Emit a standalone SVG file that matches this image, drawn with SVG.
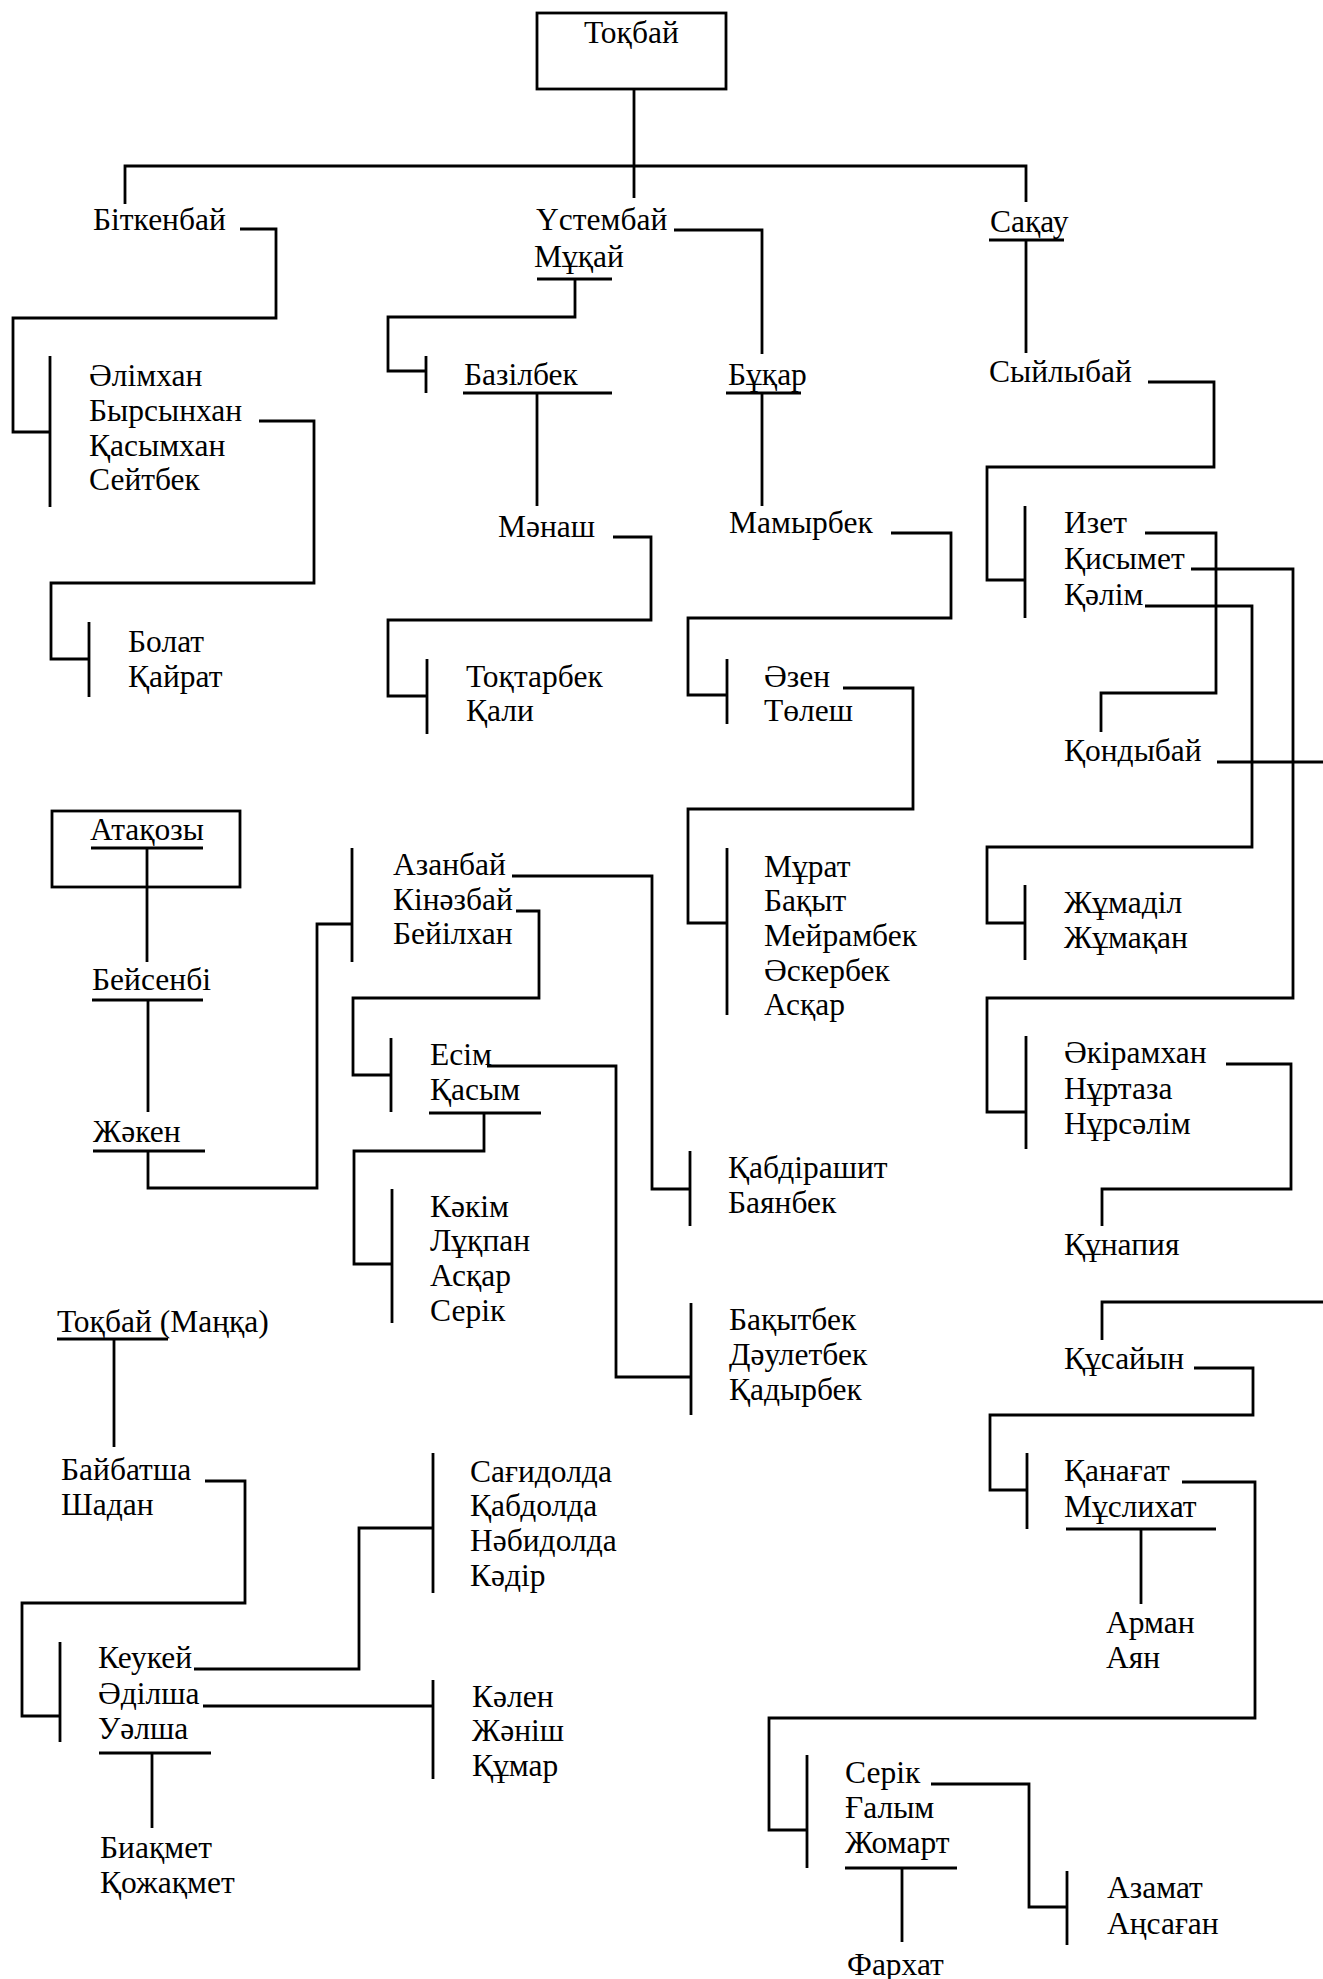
<svg xmlns="http://www.w3.org/2000/svg" width="1323" height="1979" viewBox="0 0 1323 1979">
<style>
text{font-family:"Liberation Serif","Times New Roman",serif;font-size:31.5px;fill:#000}
.l{stroke:#000;stroke-width:2.8;fill:none}
</style>
<rect width="1323" height="1979" fill="#fff"/>
<g id="connectors" class="l">
<path d="M634,89 V198 M125,204 V166 H1026 V202"/>
<path d="M240,229 H276 V318 H13 V432 H50 M50,356 V507"/>
<path d="M259,421 H314 V583 H51 V659 H89 M89,622 V697"/>
<path d="M575,279 V317 H388 V371 H426 M426,356 V393"/>
<path d="M674,230 H762 V354"/>
<path d="M537,393 V506"/>
<path d="M762,393 V506"/>
<path d="M613,537 H651 V620 H388 V696 H427 M427,659 V734"/>
<path d="M891,533 H951 V618 H688 V695 H727 M727,659 V724"/>
<path d="M843,688 H913 V809 H688 V923 H727 M727,848 V1015"/>
<path d="M1026,240 V353"/>
<path d="M1148,382 H1214 V467 H987 V580 H1025 M1025,506 V618"/>
<path d="M1145,533 H1216 V693 H1101 V732"/>
<path d="M1191,569 H1293 V998 H987 V1112 H1026 M1026,1036 V1149"/>
<path d="M1145,606 H1252 V847 H987 V923 H1025 M1025,885 V960"/>
<path d="M1217,762 H1323"/>
<path d="M1323,1302 H1102 V1340"/>
<path d="M1226,1064 H1291 V1189 H1102 V1226"/>
<path d="M1194,1368 H1253 V1415 H990 V1490 H1027 M1027,1453 V1529"/>
<path d="M1182,1482 H1255 V1718 H769 V1830 H807 M807,1755 V1868"/>
<path d="M1141,1529 V1604"/>
<path d="M931,1784 H1029 V1907 H1067 M1067,1871 V1945"/>
<path d="M902,1868 V1942"/>
<path d="M147,848 V962"/>
<path d="M148,1000 V1112"/>
<path d="M148,1151 V1188 H317 V924 H352 M352,848 V962"/>
<path d="M512,876 H652 V1189 H690 M690,1151 V1226"/>
<path d="M516,911 H539 V998 H353 V1075 H391 M391,1038 V1112"/>
<path d="M487,1066 H616 V1377 H691 M691,1303 V1415"/>
<path d="M484,1113 V1151 H354 V1264 H392 M392,1189 V1323"/>
<path d="M114,1339 V1447"/>
<path d="M205,1481 H245 V1603 H22 V1716 H60 M60,1642 V1742"/>
<path d="M194,1669 H359 V1528 H433 M433,1453 V1593"/>
<path d="M203,1706 H433 M433,1680 V1779"/>
<path d="M152,1753 V1828"/>
</g>
<g id="n-tokbai"><rect class="l" x="537" y="13" width="189" height="76"/><text x="584" y="43">Тоқбай</text></g>
<g id="n-bitkenbai"><text x="93" y="230">Біткенбай</text></g>
<g id="n-ustembai"><text x="536" y="230">Үстембай</text><text x="534" y="267">Мұқай</text><path class="l" d="M537,279 H612"/></g>
<g id="n-sakau"><text x="990" y="232">Сақау</text><path class="l" d="M989,240 H1064"/></g>
<g id="n-alimkhan"><text x="89" y="386">Әлімхан</text><text x="89" y="421">Бырсынхан</text><text x="89" y="456">Қасымхан</text><text x="89" y="490">Сейтбек</text></g>
<g id="n-bazilbek"><text x="464" y="385">Базілбек</text><path class="l" d="M463,393 H612"/></g>
<g id="n-bukar"><text x="728" y="385">Бұқар</text><path class="l" d="M726,393 H801"/></g>
<g id="n-syilybai"><text x="989" y="382">Сыйлыбай</text></g>
<g id="n-manash"><text x="498" y="537">Мәнаш</text></g>
<g id="n-mamyrbek"><text x="729" y="533">Мамырбек</text></g>
<g id="n-izet"><text x="1064" y="533">Изет</text><text x="1064" y="569">Қисымет</text><text x="1064" y="605">Қәлім</text></g>
<g id="n-bolat"><text x="128" y="652">Болат</text><text x="128" y="687">Қайрат</text></g>
<g id="n-toktarbek"><text x="466" y="687">Тоқтарбек</text><text x="466" y="721">Қали</text></g>
<g id="n-azen"><text x="764" y="687">Әзен</text><text x="764" y="721">Төлеш</text></g>
<g id="n-kondybai"><text x="1064" y="761">Қондыбай</text></g>
<g id="n-atakozy"><rect class="l" x="52" y="811" width="188" height="76"/><text x="90" y="840">Атақозы</text><path class="l" d="M91,848 H203"/></g>
<g id="n-azanbai"><text x="393" y="875">Азанбай</text><text x="393" y="910">Кінәзбай</text><text x="393" y="944">Бейілхан</text></g>
<g id="n-murat"><text x="764" y="877">Мұрат</text><text x="764" y="911">Бақыт</text><text x="764" y="946">Мейрамбек</text><text x="764" y="981">Әскербек</text><text x="764" y="1015">Асқар</text></g>
<g id="n-zhumadil"><text x="1064" y="913">Жұмаділ</text><text x="1064" y="948">Жұмақан</text></g>
<g id="n-beisenbi"><text x="92" y="990">Бейсенбі</text><path class="l" d="M92,1000 H203"/></g>
<g id="n-esim"><text x="430" y="1065">Есім</text><text x="430" y="1100">Қасым</text><path class="l" d="M429,1113 H541"/></g>
<g id="n-akiramkhan"><text x="1064" y="1063">Әкірамхан</text><text x="1064" y="1099">Нұртаза</text><text x="1064" y="1134">Нұрсәлім</text></g>
<g id="n-zhaken"><text x="93" y="1142">Жәкен</text><path class="l" d="M93,1151 H205"/></g>
<g id="n-kabdirashit"><text x="728" y="1178">Қабдірашит</text><text x="728" y="1213">Баянбек</text></g>
<g id="n-kakim"><text x="430" y="1217">Кәкім</text><text x="430" y="1251">Лұқпан</text><text x="430" y="1286">Асқар</text><text x="430" y="1321">Серік</text></g>
<g id="n-kunapiya"><text x="1064" y="1255">Құнапия</text></g>
<g id="n-tokbai-manka"><text x="57" y="1332">Тоқбай (Маңқа)</text><path class="l" d="M57,1339 H168"/></g>
<g id="n-bakytbek"><text x="729" y="1330">Бақытбек</text><text x="729" y="1365">Дәулетбек</text><text x="729" y="1400">Қадырбек</text></g>
<g id="n-kusaiyn"><text x="1064" y="1369">Құсайын</text></g>
<g id="n-baibatsha"><text x="61" y="1480">Байбатша</text><text x="61" y="1515">Шадан</text></g>
<g id="n-sagidolda"><text x="470" y="1482">Сағидолда</text><text x="470" y="1516">Қабдолда</text><text x="470" y="1551">Нәбидолда</text><text x="470" y="1586">Кәдір</text></g>
<g id="n-kanagat"><text x="1064" y="1481">Қанағат</text><text x="1064" y="1517">Мұслихат</text><path class="l" d="M1066,1529 H1216"/></g>
<g id="n-arman"><text x="1106" y="1633">Арман</text><text x="1106" y="1668">Аян</text></g>
<g id="n-keukei"><text x="98" y="1668">Кеукей</text><text x="98" y="1704">Әділша</text><text x="98" y="1739">Уәлша</text><path class="l" d="M99,1753 H211"/></g>
<g id="n-kalen"><text x="472" y="1707">Кәлен</text><text x="472" y="1741">Жәніш</text><text x="472" y="1776">Құмар</text></g>
<g id="n-serik"><text x="845" y="1783">Серік</text><text x="845" y="1818">Ғалым</text><text x="845" y="1853">Жомарт</text><path class="l" d="M845,1868 H957"/></g>
<g id="n-biakmet"><text x="100" y="1858">Биақмет</text><text x="100" y="1893">Қожақмет</text></g>
<g id="n-azamat"><text x="1107" y="1898">Азамат</text><text x="1107" y="1934">Аңсаған</text></g>
<g id="n-farkhat"><text x="847" y="1975">Фархат</text></g>
</svg>
